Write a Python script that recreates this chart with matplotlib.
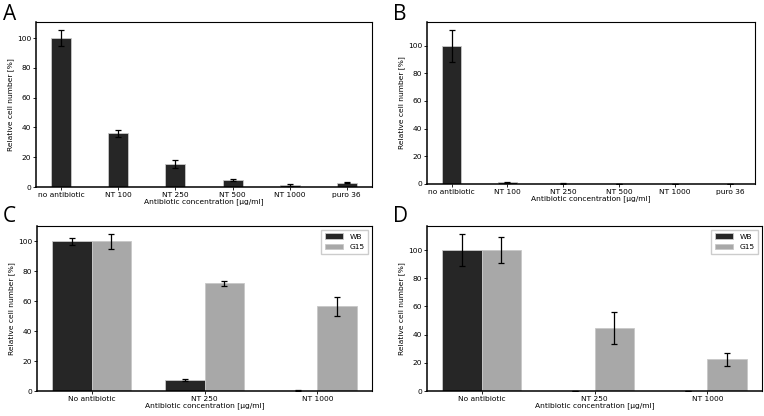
import numpy as np
from matplotlib import pyplot as plt

# panels A and B: single strain, six conditions
cats_ab = ['no antibiotic', 'NT 100', 'NT 250', 'NT 500', 'NT 1000', 'puro 36']
a_vals = [100, 36, 15.3, 4.8, 1.3, 2.8]
a_errs = [5.5, 2.5, 2.5, 0.5, 0.4, 0.3]
b_vals = [100, 1.2, 0.3, 0, 0, 0]
b_errs = [11.5, 0.4, 0.2, 0, 0, 0]

# panels C and D: two strains, three conditions
cats_cd = ['No antibiotic', 'NT 250', 'NT 1000']
c_wb = [100, 7.2, 0.3]
c_wb_err = [2.5, 0.8, 0.1]
c_g15 = [100, 72, 56.5]
c_g15_err = [5, 1.8, 6.5]
d_wb = [100, 0, 0]
d_wb_err = [11.5, 0, 0]
d_g15 = [100, 44.5, 22.5]
d_g15_err = [9, 11.5, 4.5]

DARK = '#262626'
LIGHT = '#a8a8a8'
EDGE = '#c8c8c8'
FS = 5.4
W, H = 764, 416


def make_axes(fig, l, r, t, b):
    return fig.add_axes([l/W, 1 - b/H, (r-l)/W, (b-t)/H])


def style(ax):
    ax.tick_params(labelsize=FS, length=2, width=0.6, pad=1.5)
    for s in ['top', 'right']:
        ax.spines[s].set_linewidth(0.8)
    for s in ['left', 'bottom']:
        ax.spines[s].set_linewidth(1.1)
    ax.set_ylabel('Relative cell number [%]', fontsize=FS, labelpad=2)
    ax.set_xlabel('Antibiotic concentration [µg/ml]', fontsize=FS, labelpad=0.5)


def single(ax, vals, errs):
    x = np.arange(len(cats_ab))
    ax.bar(x, vals, 0.35, color=DARK, edgecolor=EDGE, linewidth=0.6,
           yerr=errs, capsize=2, error_kw=dict(elinewidth=0.9, capthick=0.9))
    ax.set_xticks(x)
    ax.set_xticklabels(cats_ab)
    ax.set_ylim(bottom=0)
    style(ax)


def double(ax, wb, wb_err, g15, g15_err):
    x = np.arange(len(cats_cd))
    w = 0.35
    ax.bar(x - w/2, wb, w, color=DARK, edgecolor=EDGE, linewidth=0.6, label='WB',
           yerr=wb_err, capsize=2, error_kw=dict(elinewidth=0.9, capthick=0.9))
    ax.bar(x + w/2, g15, w, color=LIGHT, edgecolor=EDGE, linewidth=0.6, label='G15',
           yerr=g15_err, capsize=2, error_kw=dict(elinewidth=0.9, capthick=0.9))
    ax.set_xticks(x)
    ax.set_xticklabels(cats_cd)
    ax.set_ylim(bottom=0)
    ax.legend(fontsize=FS, loc='upper right', handlelength=2.5, handleheight=0.8,
              borderpad=0.5, fancybox=False, edgecolor='#cccccc', framealpha=1)
    style(ax)


fig = plt.figure(figsize=(7.64, 4.16), dpi=100)

axA = make_axes(fig, 36, 372, 22, 187)
single(axA, a_vals, a_errs)
axB = make_axes(fig, 427, 755, 22, 184)
single(axB, b_vals, b_errs)
axC = make_axes(fig, 37, 372, 226, 391)
double(axC, c_wb, c_wb_err, c_g15, c_g15_err)
axD = make_axes(fig, 427, 762, 226, 391)
double(axD, d_wb, d_wb_err, d_g15, d_g15_err)

for lab, x, y in [('A', 3, 4), ('B', 393, 4), ('C', 3, 206), ('D', 393, 206)]:
    fig.text(x/W, 1 - y/H, lab, fontsize=15, family='Open Sans', va='top', ha='left')

fig.savefig('out.png', dpi=100)
